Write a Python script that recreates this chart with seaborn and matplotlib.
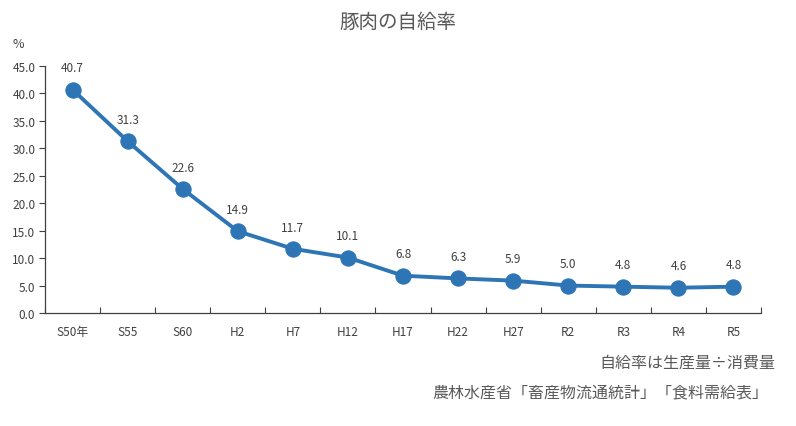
import matplotlib
matplotlib.use("Agg")
import matplotlib.pyplot as plt
import seaborn as sns
import pandas as pd
import numpy as np

categories = ["S50年", "S55", "S60", "H2", "H7", "H12", "H17", "H22", "H27", "R2", "R3", "R4", "R5"]
values = [40.7, 31.3, 22.6, 14.9, 11.7, 10.1, 6.8, 6.3, 5.9, 5.0, 4.8, 4.6, 4.8]
yticks = [0, 5, 10, 15, 20, 25, 30, 35, 40, 45]

sns.set_theme(style="white")
plt.rcParams['font.family'] = ['Noto Sans CJK JP', 'DejaVu Sans']
plt.rcParams['xtick.direction'] = 'in'
plt.rcParams['xtick.bottom'] = True
plt.rcParams['ytick.left'] = True
plt.rcParams['ytick.direction'] = 'out'

df = pd.DataFrame({"x": np.arange(len(categories)), "v": values})

fig = plt.figure(figsize=(7.96, 4.27), dpi=100)
ax = fig.add_axes([45/796, 113/427, (761-45)/796, (314-67)/427])
color = "#2E75B6"
sns.lineplot(data=df, x="x", y="v", ax=ax, color=color, linewidth=2.8,
             marker="o", markersize=11, markeredgecolor=color, markerfacecolor=color)

ax.set_xlim(-0.5, len(categories) - 0.5)
ax.set_ylim(0, 45)
ax.set_yticks(yticks)
ax.set_yticklabels([f"{t:.1f}" for t in yticks], fontsize=8.5, color="#404040")
ax.set_xticks(np.arange(len(categories)))
ax.set_xticklabels(categories, fontsize=8.5, color="#404040")
ax.set_xticks(np.arange(len(categories) + 1) - 0.5, minor=True)
ax.tick_params(axis="x", which="major", length=0, pad=9, bottom=True)
ax.tick_params(axis="x", which="minor", length=4, direction="in", color="#404040", width=0.8, bottom=True)
ax.tick_params(axis="y", which="major", length=4, direction="out", color="#404040", width=0.8, pad=3, left=True)
ax.set_xlabel("")
ax.set_ylabel("")
for s in ["top", "right"]:
    ax.spines[s].set_visible(False)
for s in ["left", "bottom"]:
    ax.spines[s].set_color("#404040")
    ax.spines[s].set_linewidth(0.9)

for i, v in enumerate(values):
    ax.annotate(f"{v:.1f}", (i, v), xytext=(0, 11), textcoords="offset points",
                ha="center", va="bottom", fontsize=8.5, color="#404040")

fig.text(18/796, 1 - 45/427, "%", fontsize=9, color="#404040", ha="center", va="center")
fig.text(398/796, 1 - 22/427, "豚肉の自給率", fontsize=14, color="#595959", ha="center", va="center")
fig.text(775/796, 1 - 363/427, "自給率は生産量÷消費量", fontsize=11.5, color="#595959", ha="right", va="center")
fig.text(768/796, 1 - 393/427, "農林水産省「畜産物流通統計」「食料需給表」", fontsize=11.5, color="#595959", ha="right", va="center")

fig.savefig("out.png", dpi=100)
